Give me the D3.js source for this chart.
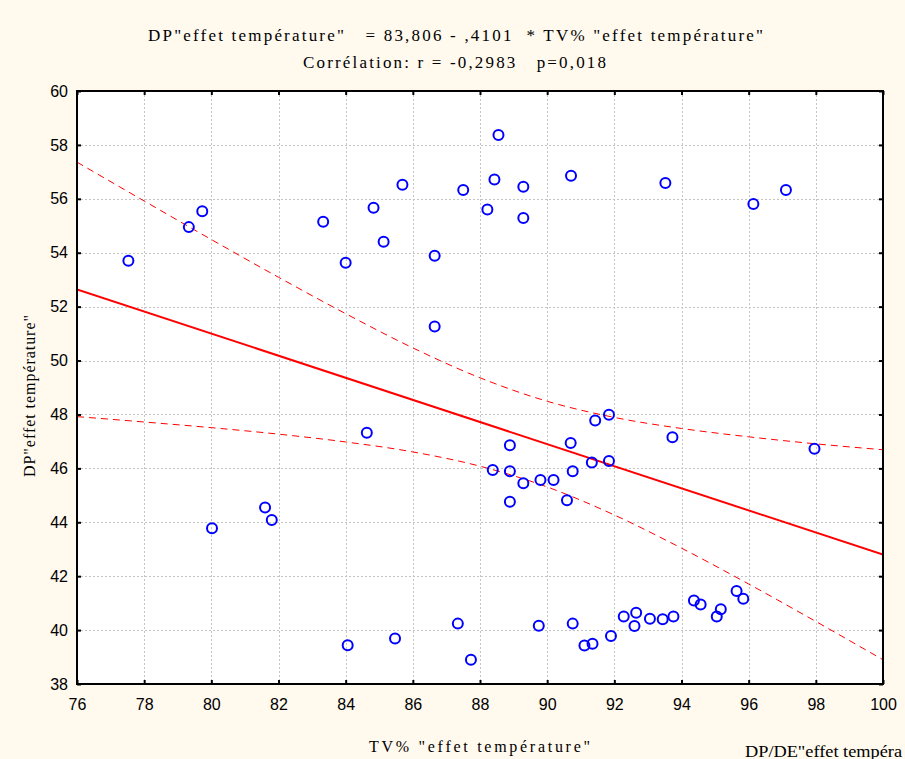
<!DOCTYPE html>
<html><head><meta charset="utf-8">
<script src="https://cdn.jsdelivr.net/npm/d3@7"></script>
<style>html,body{margin:0;padding:0;background:#fff9ee;} svg{display:block}</style>
</head><body>
<svg id="c" width="905" height="759"></svg>
<script>
// ---- data ----
const titleLine1 = 'DP"effet température"   = 83,806 - ,4101  * TV% "effet température"';
const titleLine2 = 'Corrélation: r = -0,2983   p=0,018';
const xLabel = 'TV% "effet température"';
const yLabel = 'DP"effet température"';
const cornerLabel = 'DP/DE"effet tempéra';
const xTicks = [76,78,80,82,84,86,88,90,92,94,96,98,100];
const yTicks = [38,40,42,44,46,48,50,52,54,56,58,60];

const tvX = [77.53,79.33,79.73,83.33,84.00,84.83,85.13,85.69,86.65,86.65,87.50,88.22,88.43,88.55,
  89.29,89.29,90.71,93.52,96.14,97.11,
  84.63,88.38,81.60,81.80,80.02,84.06,85.47,87.34,87.73,
  88.89,90.70,91.43,91.84,93.73,97.96,
  88.89,89.29,89.80,90.19,90.76,91.33,91.84,88.89,90.59,
  89.75,90.76,91.11,91.35,91.90,92.28,92.65,92.60,93.06,93.44,93.76,94.37,94.57,95.05,95.17,95.64,95.84];
const dpY = [53.70,54.95,55.54,55.15,53.63,55.67,54.41,56.52,53.89,51.26,56.33,55.60,56.72,58.37,
  56.45,55.29,56.86,56.59,55.81,56.33,
  47.32,45.94,44.55,44.08,43.78,39.44,39.69,40.24,38.90,
  46.86,46.94,47.78,47.99,47.15,46.73,
  45.89,45.45,45.57,45.57,45.89,46.22,46.27,44.76,44.82,
  40.16,40.24,39.43,39.49,39.78,40.50,40.64,40.15,40.42,40.40,40.50,41.10,40.95,40.50,40.77,41.45,41.16];

const fitX = [76,100];
const fitY = [52.64,42.80];
const bandX =     [76,   78,   80,   82,   84,   86,   88,   90,   92,   94,   96,   98,   100];
const bandUpper = [57.36,55.92,54.49,53.09,51.74,50.47,49.36,48.49,47.89,47.48,47.17,46.91,46.69];
const bandLower = [47.92,47.72,47.51,47.27,46.98,46.61,46.08,45.31,44.27,43.04,41.71,40.32,38.90];

// ---- layout ----
const L = 77, R = 883, T = 91, B = 684;
const svg = d3.select('#c');
const x = d3.scaleLinear().domain([76,100]).range([L,R]);
const y = d3.scaleLinear().domain([38,60]).range([B,T]);

svg.append('rect').attr('x',0).attr('y',0).attr('width',905).attr('height',759).attr('fill','#fff9ee');
svg.append('rect').attr('x',L).attr('y',T).attr('width',R-L).attr('height',B-T).attr('fill','#ffffff');

// grid
const grid = svg.append('g').attr('stroke','#c4c4c4').attr('stroke-width',1).attr('stroke-dasharray','2,2');
xTicks.slice(1,-1).forEach(v => grid.append('line').attr('x1',Math.round(x(v))+0.5).attr('x2',Math.round(x(v))+0.5).attr('y1',T).attr('y2',B));
yTicks.slice(1,-1).forEach(v => grid.append('line').attr('y1',Math.round(y(v))+0.5).attr('y2',Math.round(y(v))+0.5).attr('x1',L).attr('x2',R));

// clip
svg.append('clipPath').attr('id','clip').append('rect').attr('x',L).attr('y',T).attr('width',R-L).attr('height',B-T);
const plot = svg.append('g').attr('clip-path','url(#clip)');

const band = d3.line().x(d=>x(d[0])).y(d=>y(d[1])).curve(d3.curveMonotoneX);
plot.append('path').datum(bandX.map((v,i)=>[v,bandUpper[i]])).attr('d',band)
  .attr('fill','none').attr('stroke','#ff0000').attr('stroke-width',1).attr('stroke-dasharray','7,5');
plot.append('path').datum(bandX.map((v,i)=>[v,bandLower[i]])).attr('d',band)
  .attr('fill','none').attr('stroke','#ff0000').attr('stroke-width',1).attr('stroke-dasharray','7,5');
plot.append('path').datum(fitX.map((v,i)=>[v,fitY[i]])).attr('d',d3.line().x(d=>x(d[0])).y(d=>y(d[1])))
  .attr('fill','none').attr('stroke','#ff0000').attr('stroke-width',2);

// points
svg.append('g').selectAll('circle').data(tvX.map((v,i)=>[v,dpY[i]])).join('circle')
  .attr('cx',d=>x(d[0])).attr('cy',d=>y(d[1])).attr('r',5)
  .attr('fill','none').attr('stroke','#0000ff').attr('stroke-width',2);

// axes
const tickFont = '"Liberation Sans", Arial, sans-serif';
const gL = svg.append('g').attr('transform',`translate(${L},0)`)
  .call(d3.axisLeft(y).tickValues(yTicks).tickSize(-4).tickPadding(9).tickFormat(d3.format('d')));
const gB = svg.append('g').attr('transform',`translate(0,${B})`)
  .call(d3.axisBottom(x).tickValues(xTicks).tickSize(-4).tickPadding(15).tickFormat(d3.format('d')));
const gR = svg.append('g').attr('transform',`translate(${R},0)`)
  .call(d3.axisRight(y).tickValues(yTicks).tickSize(-4).tickFormat(''));
const gT = svg.append('g').attr('transform',`translate(0,${T})`)
  .call(d3.axisTop(x).tickValues(xTicks).tickSize(-4).tickFormat(''));
[gL,gB,gR,gT].forEach(g => {
  g.select('.domain').remove();
  g.selectAll('line').attr('stroke','#000').attr('stroke-width',2);
  g.selectAll('text').attr('font-family',tickFont).attr('font-size',16).attr('fill','#000');
});

// frame
svg.append('rect').attr('x',L).attr('y',T).attr('width',R-L).attr('height',B-T)
  .attr('fill','none').attr('stroke','#000').attr('stroke-width',2);

// titles
const serif = '"Liberation Serif", "Times New Roman", serif';
svg.append('text').attr('x',148).attr('y',41).attr('font-family',serif).attr('font-size',17)
  .attr('xml:space','preserve').style('white-space','pre')
  .attr('textLength',615).attr('lengthAdjust','spacing').text(titleLine1);
svg.append('text').attr('x',303).attr('y',68).attr('font-family',serif).attr('font-size',17)
  .style('white-space','pre').attr('textLength',303).attr('lengthAdjust','spacing').text(titleLine2);
svg.append('text').attr('x',369).attr('y',752).attr('font-family',serif).attr('font-size',16)
  .style('white-space','pre').attr('textLength',221).attr('lengthAdjust','spacing').text(xLabel);
svg.append('text').attr('transform','translate(35,477) rotate(-90)').attr('font-family',serif).attr('font-size',16)
  .attr('textLength',162).attr('lengthAdjust','spacing').text(yLabel);
svg.append('text').attr('x',745).attr('y',757).attr('font-family',serif).attr('font-size',16)
  .attr('textLength',157).attr('lengthAdjust','spacingAndGlyphs').text(cornerLabel);
</script>
</body></html>
